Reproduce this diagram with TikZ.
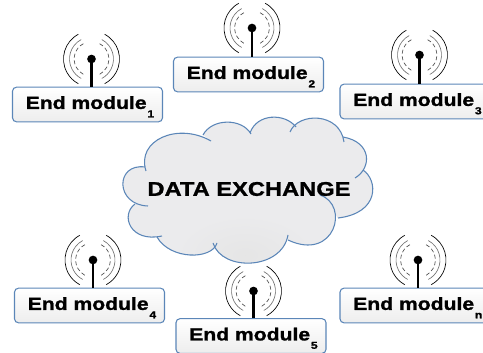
\documentclass[tikz,border=0pt]{standalone}
\usepackage{fontspec}
\setmainfont{Liberation Sans}[BoldFeatures={FakeStretch=1.2,FakeBold=1.3}]
\usetikzlibrary{positioning,shadings}
\definecolor{boxline}{HTML}{5B86B8}
\definecolor{cloudfill}{HTML}{EBEBED}
\tikzset{
  endbox/.style={draw=boxline,line width=0.8pt,rounded corners=3pt,minimum width=112.5pt,minimum height=26pt,
    top color=white,bottom color=black!7,inner sep=0pt},
  endtext/.style={font=\bfseries\fontsize{13.2}{13.2}\selectfont,anchor=base west,inner sep=0pt},
  subtext/.style={font=\bfseries\fontsize{7.6}{7.6}\selectfont,anchor=base west,inner sep=0pt},
  mast/.style={draw=black,line width=1.6pt},
  tipdot/.style={circle,fill=black,inner sep=0pt,minimum size=6.5pt},
  wave/.style={line width=0.5pt,draw=black},
  wavegrey/.style={line width=0.5pt,draw=black!55},
  wavedash/.style={line width=0.5pt,draw=black!70,densely dashed},
  cloudline/.style={draw=boxline,line width=0.8pt},
}
\newcommand{\waves}[1]{
  \foreach \r/\s in {21/wave,16.5/wavegrey,13/wavedash} {
    \draw[\s] (#1) ++(118:\r pt) arc (118:242:\r pt);
    \draw[\s] (#1) ++(62:\r pt) arc (62:-62:\r pt);
  }
}
\newcommand{\cloudshape}{
  (146,171) .. controls (136,140) and (178,122) .. (211,141)
  -- (203,135) .. controls (212,118) and (242,118) .. (251,134)
  -- (250,133) .. controls (257,113) and (285,113) .. (296,127)
  -- (290,132) .. controls (298,112) and (340,112) .. (344,142)
  -- (343,137) .. controls (372,142) and (372,168) .. (355,178)
  -- (363,170) .. controls (378,180) and (380,213) .. (338,218)
  -- (320,195) .. controls (350,205) and (335,262) .. (288,240)
  -- (288,235) .. controls (282,270) and (222,272) .. (213,243)
  -- (217,243) .. controls (212,260) and (170,260) .. (157,237)
  -- (162,236) .. controls (130,243) and (120,215) .. (135,204)
  -- (148,206) .. controls (115,205) and (115,163) .. (145,167) -- cycle
}
\begin{document}
\begin{tikzpicture}[x=0.75pt,y=-0.75pt]
\useasboundingbox (0,0) rectangle (483,353);
\clip (0,0) rectangle (483,353);

% cloud
\fill[cloudfill] \cloudshape;
\begin{scope}
  \clip \cloudshape;
  \shade[inner color=black!10,outer color=cloudfill] (245,255) ellipse (70 and 40);
\end{scope}
\draw[cloudline] (146,171) .. controls (136,140) and (178,122) .. (211,141);
\draw[cloudline] (203,135) .. controls (212,118) and (242,118) .. (251,134);
\draw[cloudline] (250,133) .. controls (257,113) and (285,113) .. (296,127);
\draw[cloudline] (290,132) .. controls (298,112) and (340,112) .. (344,142);
\draw[cloudline] (343,137) .. controls (372,142) and (372,168) .. (355,178);
\draw[cloudline] (363,170) .. controls (378,180) and (380,213) .. (338,218);
\draw[cloudline] (320,195) .. controls (350,205) and (335,262) .. (288,240);
\draw[cloudline] (288,235) .. controls (282,270) and (222,272) .. (213,243);
\draw[cloudline] (217,243) .. controls (212,260) and (170,260) .. (157,237);
\draw[cloudline] (162,236) .. controls (130,243) and (120,215) .. (135,204);
\draw[cloudline] (148,206) .. controls (115,205) and (115,163) .. (145,167);
\node[font=\bfseries\fontsize{14.8}{14.8}\selectfont,inner sep=0pt] (exchange) at (249,189) {DATA EXCHANGE};

% modules
\foreach \nm/\cx/\cy/\dx/\dy/\lbl in {
    one/87.5/104.5/91.5/59/1,
    two/248.5/74.5/252/28/2,
    three/415/101.5/419.5/55/3,
    four/89.5/305.5/93/260/4,
    five/251/336/253.5/291/5,
    six/415/305.5/418/260/n} {
  \coordinate (tip\nm) at (\dx,\dy);
  \node[endbox] (box\nm) at (\cx,\cy) {};
  \draw[mast] (tip\nm) -- (tip\nm |- box\nm.north);
  \node[tipdot] (dot\nm) at (tip\nm) {};
  \waves{tip\nm}
  \node[endtext] (txt\nm) at ([xshift=-62*0.75pt,yshift=-3.3pt]box\nm.center) {End module};
  \node[subtext] (sub\nm) at ([xshift=0.2pt,yshift=-6.3pt]txt\nm.base east) {\lbl};
}
\end{tikzpicture}
\end{document}
